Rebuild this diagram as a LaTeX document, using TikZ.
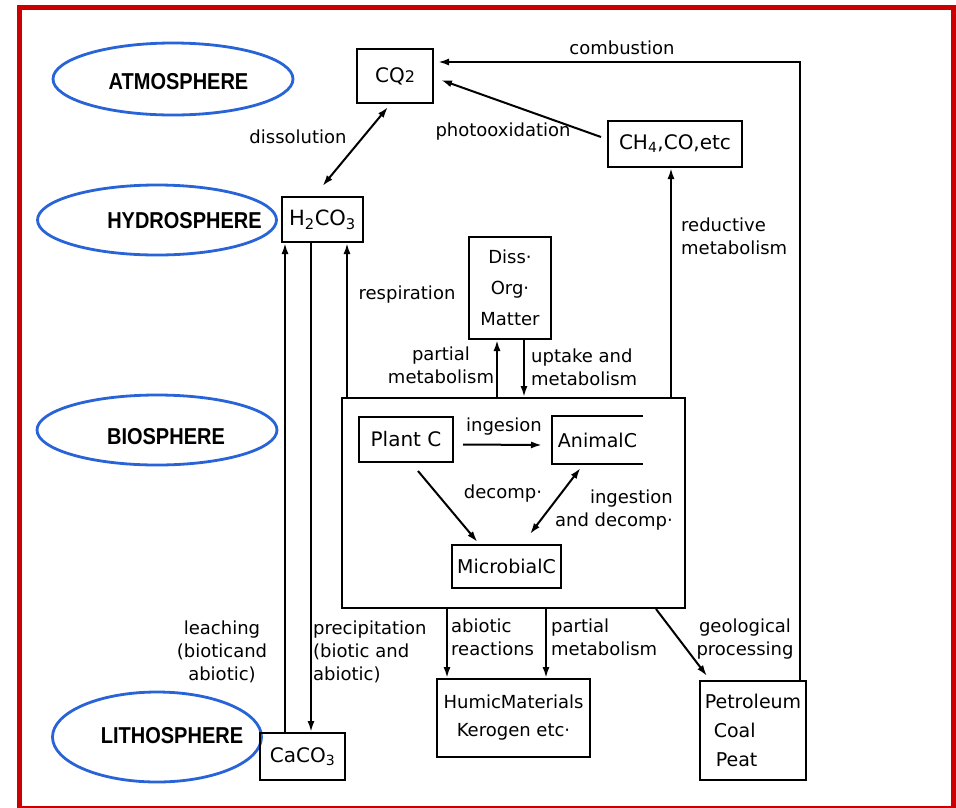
\documentclass[tikz,border=0pt]{standalone}
\usepackage{fontspec}
\setmainfont{DejaVu Sans}
\newfontfamily\sphfont{Liberation Sans}
\usetikzlibrary{arrows.meta,calc,shapes.geometric}
\definecolor{framered}{RGB}{204,0,0}
\definecolor{sphblue}{RGB}{40,100,215}
\newcommand{\sphtext}[1]{\scalebox{1}[1.15]{#1}}
\begin{document}
\begin{tikzpicture}[x=1pt,y=-1pt,
  box/.style={draw, line width=2pt, inner sep=0pt, align=center, font=\fontsize{20}{24}\selectfont},
  lbl/.style={inner sep=0pt, font=\fontsize{18}{23}\selectfont},
  sph/.style={ellipse, draw=sphblue, line width=2.8pt, inner sep=0pt},
  sphtxt/.style={inner sep=0pt, font=\sphfont\bfseries\fontsize{20}{24}\selectfont},
  arr/.style={line width=2pt, -{Latex[length=11pt,width=7pt]}},
  dbl/.style={line width=2pt, {Latex[length=11pt,width=7pt]}-{Latex[length=11pt,width=7pt]}},
  plain/.style={line width=2pt}
]
\useasboundingbox (0,0) rectangle (956,807);
\fill[white] (0,0) rectangle (956,807);
\draw[framered, line width=5pt] (19.5,7.5) rectangle (953,808);

% spheres
\node[sph, minimum width=240pt, minimum height=72pt] (eatm) at (173,79) {};
\node[sph, minimum width=239pt, minimum height=70pt] (ehyd) at (157,220) {};
\node[sph, minimum width=240pt, minimum height=70pt] (ebio) at (157,430) {};
\node[sph, minimum width=209pt, minimum height=90pt] (elit) at (157,737) {};
\node[sphtxt] (tatm) at (178.5,82) {\sphtext{ATMOSPHERE}};
\node[sphtxt] (thyd) at (184.5,221) {\sphtext{HYDROSPHERE}};
\node[sphtxt] (tbio) at (166,437) {\sphtext{BIOSPHERE}};
\node[sphtxt] (tlit) at (172,736) {\sphtext{LITHOSPHERE}};

% boxes
\node[box, minimum width=76pt, minimum height=54pt] (co2) at (395,76) {CQ{\fontsize{16}{16}\selectfont 2}};
\node[box, minimum width=81pt, minimum height=45pt, font=\fontsize{21}{24}\selectfont] (h2co3) at (322.5,219.5) {H\textsubscript{2}CO\textsubscript{3}};
\node[box, minimum width=134pt, minimum height=46pt] (ch4) at (675,144) {CH\textsubscript{4},CO,etc};
\node[box, minimum width=82pt, minimum height=102pt, font=\fontsize{18}{31}\selectfont] (diss) at (510,288) {Diss·\\Org·\\Matter};
\node[draw, line width=2pt, minimum width=343pt, minimum height=210pt, inner sep=0pt] (big) at (513.5,503) {};
\node[box, minimum width=94pt, minimum height=45pt] (plant) at (406,439.5) {Plant C};
\node[box, draw=none, minimum width=89pt, minimum height=46pt, font=\fontsize{19}{24}\selectfont] (animal) at (597.5,440) {AnimalC};
\draw[plain] (animal.north east) -- (animal.north west) -- (animal.south west) -- (animal.south east);
\node[box, minimum width=109pt, minimum height=43pt, font=\fontsize{19}{24}\selectfont] (micro) at (506.5,566.5) {MicrobialC};
\node[box, minimum width=153pt, minimum height=78pt, font=\fontsize{18}{28}\selectfont] (humic) at (513.5,718) {HumicMaterials\\Kerogen etc·};
\node[box, minimum width=106pt, minimum height=99pt, align=left, font=\fontsize{19}{29}\selectfont] (petro) at (753,730.5) {Petroleum\\\hspace*{9pt}Coal\\\hspace*{11pt}Peat};
\node[box, minimum width=85pt, minimum height=47pt] (caco3) at (302.5,756.5) {CaCO\textsubscript{3}};

% connectors
\draw[dbl] ($(h2co3.north)+(0,-10)$) -- ($(co2.south)+(-7,3)$);
\draw[arr] ($(petro.north east)+(-7,0)$) |- ($(co2.north east)+(4,14)$);
\draw[arr] ($(ch4.west)+(-6,-7)$) -- ($(co2.east)+(7,4)$);
\coordinate (r1) at ($(big.north east)+(-15,0)$);
\draw[arr] (r1) -- (ch4.south -| r1);
\coordinate (l1) at ($(caco3.north west)+(26,0)$);
\draw[arr] (l1) -- (h2co3.south -| l1);
\coordinate (p1) at ($(h2co3.south west)+(30,0)$);
\draw[arr] (p1) -- (caco3.north -| p1);
\coordinate (r2) at ($(big.north west)+(6,0)$);
\draw[arr] (r2) -- (h2co3.south -| r2);
\coordinate (m1) at ($(big.north west)+(156,0)$);
\draw[arr] (m1) -- (diss.south -| m1);
\coordinate (u1) at ($(diss.south west)+(56,0)$);
\draw[arr] (u1) -- (big.north -| u1);
\draw[arr] ($(plant.east)+(9,5)$) -- ($(animal.west)+(-10,5)$);
\draw[arr] ($(plant.south)+(12,8)$) -- ($(micro.north)+(-29,-2)$);
\draw[dbl] ($(animal.south)+(-17,4)$) -- ($(micro.north)+(23.5,-10)$);
\coordinate (a1) at ($(big.south west)+(106,0)$);
\draw[arr] (a1) -- (humic.north -| a1);
\coordinate (a2) at ($(big.south west)+(205,0)$);
\draw[arr] (a2) -- (humic.north -| a2);
\draw[arr] ($(big.south east)+(-30,0)$) -- ($(petro.north west)+(8,-4)$);

% labels
\node[lbl] (lcomb) at (622,48) {combustion};
\node[lbl] (ldiss) at (298,137) {dissolution};
\node[lbl] (lphot) at (503,132) {photooxidation};
\node[lbl, anchor=west, align=left] (lred) at (681,236) {reductive\\metabolism};
\node[lbl] (lresp) at (407,295) {respiration};
\node[lbl, align=center] (lpm1) at (441,365) {partial\\metabolism};
\node[lbl, anchor=west, align=left] (lupt) at (531,367) {uptake and\\metabolism};
\node[lbl] (ling) at (504,427) {ingesion};
\node[lbl] (ldec) at (503,494) {decomp·};
\node[lbl, anchor=east, align=right] (lingd) at (673,510) {ingestion\\and decomp·};
\node[lbl, align=center] (lleach) at (222,652) {leaching\\(bioticand\\abiotic)};
\node[lbl, anchor=west, align=left] (lprec) at (313,652) {precipitation\\(biotic and\\abiotic)};
\node[lbl, anchor=west, align=left] (labio) at (451,637) {abiotic\\reactions};
\node[lbl, anchor=west, align=left] (lpm2) at (551,637) {partial\\metabolism};
\node[lbl, align=center] (lgeo) at (745,639) {geological\\processing};
\end{tikzpicture}
\end{document}
